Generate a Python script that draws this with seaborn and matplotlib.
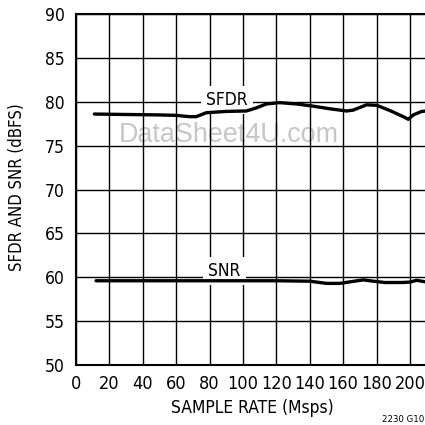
import matplotlib
matplotlib.use("Agg")
import matplotlib.pyplot as plt
import seaborn as sns
import pandas as pd

sfdr_x = [11, 30, 50, 60, 68, 72, 78, 90, 102, 108, 114, 122, 132, 142, 152, 162, 166, 174, 180, 188, 196, 199, 202, 207, 210]
sfdr_y = [78.6, 78.55, 78.5, 78.45, 78.3, 78.3, 78.75, 78.9, 78.95, 79.3, 79.75, 79.9, 79.75, 79.5, 79.2, 78.95, 79.05, 79.65, 79.6, 79.0, 78.3, 78.0, 78.5, 78.9, 78.95]
snr_x = [12, 40, 80, 120, 140, 150, 158, 165, 172, 178, 185, 195, 200, 204, 210]
snr_y = [59.6, 59.6, 59.6, 59.6, 59.55, 59.3, 59.3, 59.5, 59.7, 59.55, 59.4, 59.4, 59.45, 59.65, 59.45]

x_ticks = [0, 20, 40, 60, 80, 100, 120, 140, 160, 180, 200]
y_ticks = [50, 55, 60, 65, 70, 75, 80, 85, 90]

sns.set_theme(style="white")
plt.rcParams['font.family'] = ['DejaVu Sans']
plt.rcParams['font.stretch'] = 'condensed'

df = pd.concat([
    pd.DataFrame({"rate": sfdr_x, "val": sfdr_y, "series": "SFDR"}),
    pd.DataFrame({"rate": snr_x, "val": snr_y, "series": "SNR"}),
])

fig = plt.figure(figsize=(4.25, 4.25), dpi=100)
ax = fig.add_axes([0.1788, 0.1412, 0.8212, 0.8258])

sns.lineplot(data=df, x="rate", y="val", units="series", estimator=None,
             color="black", linewidth=2.4, ax=ax, zorder=5, sort=False)

ax.set_xlim(0, 209)
ax.set_ylim(50, 90)
ax.set_xticks(x_ticks)
ax.set_yticks(y_ticks)
ax.tick_params(axis="x", length=0, labelsize=13, colors="black", pad=7.5)
ax.tick_params(axis="y", length=0, labelsize=12.5, colors="black", pad=8)
ax.grid(True, color="black", linewidth=1.0)
ax.set_axisbelow(True)
for s in ["left", "bottom", "top"]:
    ax.spines[s].set_visible(True)
    ax.spines[s].set_color("black")
    ax.spines[s].set_linewidth(1.5)
ax.spines["right"].set_visible(False)
ax.set_xlabel("")
ax.set_ylabel("")

fig.text(252 / 425, 1 - 408 / 425, "SAMPLE RATE (Msps)", fontsize=12.5, color="black",
         ha="center", va="center")
fig.text(17 / 425, 1 - 187.5 / 425, "SFDR AND SNR (dBFS)", fontsize=12, color="black",
         ha="center", va="center", rotation=90)

bb = dict(boxstyle="square,pad=0.3", fc="white", ec="none")
ax.text(90.4, 79.63, "SFDR", ha="center", va="baseline", fontsize=12.5, color="black", bbox=bb, zorder=3)
ax.text(88.9, 60.14, "SNR", ha="center", va="baseline", fontsize=12.5, color="black", bbox=bb, zorder=3)

ax.text(91.3, 75.45, "DataSheet4U.com", ha="center", va="baseline", fontsize=19.4,
        color="#c6c6c6", family=["Liberation Sans", "DejaVu Sans"], stretch="normal", zorder=0.3)

fig.text(0.998, 1 - 420 / 425, "2230 G10", fontsize=6.8, color="black", ha="right", va="center")

fig.savefig("out.png", dpi=100)
